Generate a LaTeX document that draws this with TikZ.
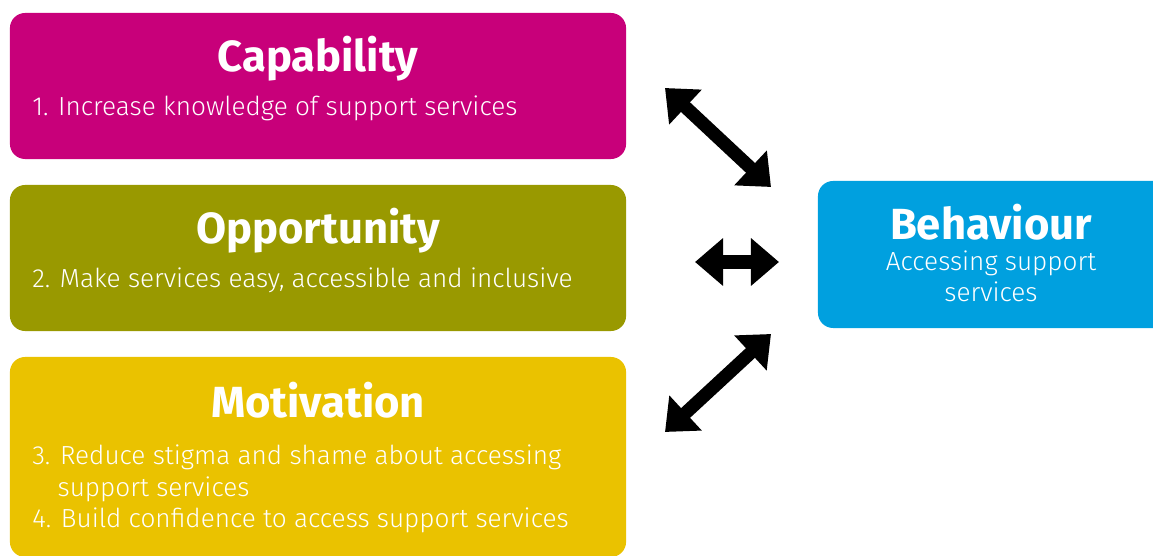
\documentclass[tikz,border=0pt]{standalone}
\usepackage{fontspec}
\setmainfont{Fira Sans}
\newfontfamily\lightfont{Fira Sans Light}
\usetikzlibrary{arrows.meta}

\definecolor{capcol}{HTML}{C8007A}
\definecolor{oppcol}{HTML}{999900}
\definecolor{motcol}{HTML}{EAC200}
\definecolor{behcol}{HTML}{00A0DF}

\begin{document}
\begin{tikzpicture}[
    x=0.025cm, y=-0.025cm,
    box/.style={
        rectangle,
        rounded corners=0.38cm,
        inner sep=0pt,
        minimum width=15.4cm,
        minimum height=3.65cm
    },
    title/.style={
        text=white,
        anchor=base,
        inner sep=0pt,
        font=\fontsize{31}{36}\selectfont\bfseries
    },
    body/.style={
        text=white,
        anchor=base west,
        inner sep=0pt,
        align=left,
        font=\lightfont\fontsize{18.6}{22.7}\selectfont
    },
    bigarrow/.style={
        {Triangle[length=0.7cm, width=1.15cm]}-{Triangle[length=0.7cm, width=1.15cm]},
        line width=0.33cm
    }
]
    \useasboundingbox (0,0) rectangle (1153,556);

    % Tre componenti
    \node[box, fill=capcol] (cap) at (318,86) {};
    \node[title] (capT) at (318,72) {Capability};
    \node[body] (capB) at (32,116) {1. Increase knowledge of support services};

    \node[box, fill=oppcol] (opp) at (318,258) {};
    \node[title] (oppT) at (318,244) {Opportunity};
    \node[body] (oppB) at (32,288) {2. Make services easy, accessible and inclusive};

    \node[box, fill=motcol, minimum height=5cm] (mot) at (318,457) {};
    \node[title] (motT) at (318,418) {Motivation};
    % ancora base = ultima riga
    \node[body] (motB) at (32,528)
         {3. Reduce stigma and shame about accessing\\
          \phantom{3.\ }support services\\
          4. Build confidence to access support services};

    % Comportamento
    \node[box, fill=behcol, minimum width=8.8cm, minimum height=3.675cm]
         (beh) at (994,254.5) {};
    \node[title] (behT) at (991,240) {Behaviour};
    \node[body, anchor=base, align=center] (behB) at (991,302)
         {Accessing support\\services};

    % Frecce
    \coordinate (a1) at (665,88);
    \coordinate (b1) at (771,187);
    \coordinate (a2) at (695,262);
    \coordinate (b2) at (779,262);
    \coordinate (a3) at (665,432);
    \coordinate (b3) at (771,334);
    \draw[bigarrow] (a1) -- (b1);
    \draw[bigarrow] (a2) -- (b2);
    \draw[bigarrow] (a3) -- (b3);
\end{tikzpicture}
\end{document}
